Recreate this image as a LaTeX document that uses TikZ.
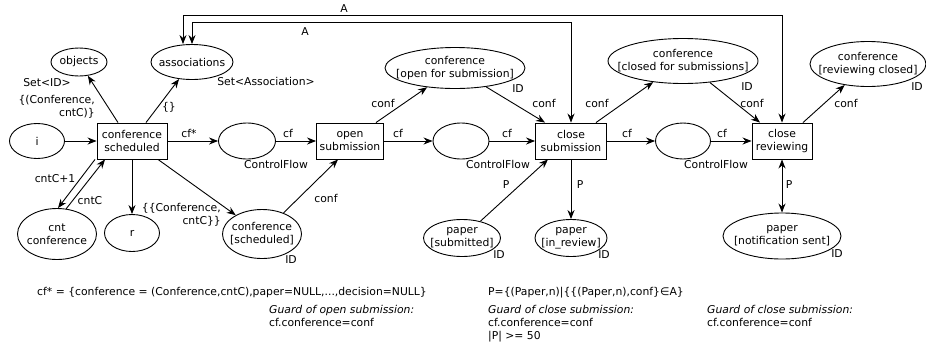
\documentclass[tikz,border=0pt]{standalone}
\usepackage{fontspec}
\setmainfont{DejaVu Sans}
\usetikzlibrary{shapes.geometric,arrows.meta}

\tikzset{
    place/.style={ellipse, draw, line width=0.9pt, inner sep=-60pt, align=center},
    trans/.style={rectangle, draw, line width=0.9pt, minimum height=36, inner sep=0pt, align=center},
    arc/.style={line width=0.9pt, -{Stealth[length=9pt,width=7pt]}},
    arcboth/.style={line width=0.9pt, {Stealth[length=9pt,width=7pt]}-{Stealth[length=9pt,width=7pt]}},
    lbl/.style={inner sep=0pt},
}

\begin{document}
\begin{tikzpicture}[x=1pt, y=-1pt, font=\fontsize{10.8}{13}\selectfont]
    \useasboundingbox (0,0) rectangle (926,346);

    % Transitions
    \node[trans, minimum width=70] (tsched) at (132,141) {conference\\scheduled};
    \node[trans, minimum width=67] (topen) at (350,141) {open\\submission};
    \node[trans, minimum width=71] (tclosesub) at (571,141) {close\\submission};
    \node[trans, minimum width=60] (tcloserev) at (782,141) {close\\reviewing};

    % Places
    \node[place, minimum width=55, minimum height=35] (i) at (37,141) {i};
    \node[place, minimum width=56, minimum height=28] (objects) at (79,62) {objects};
    \node[place, minimum width=82, minimum height=35] (assoc) at (192,62) {associations};
    \node[place, minimum width=79, minimum height=51] (cnt) at (57,234) {cnt\\conference};
    \node[place, minimum width=55, minimum height=37] (r) at (132,233) {r};
    \node[place, minimum width=79, minimum height=49] (confsched) at (262,234) {conference\\{[scheduled]}};
    \node[place, minimum width=57, minimum height=36] (cfa) at (247,141) {};
    \node[place, minimum width=56, minimum height=36] (cfb) at (461,141) {};
    \node[place, minimum width=55, minimum height=36] (cfc) at (683,141) {};
    \node[place, minimum width=140, minimum height=41] (confopen) at (455,68) {conference\\{[open for submission]}};
    \node[place, minimum width=150, minimum height=45] (confclosed) at (683,61) {conference\\{[closed for submissions]}};
    \node[place, minimum width=116, minimum height=45] (confrev) at (868,64) {conference\\{[reviewing closed]}};
    \node[place, minimum width=77, minimum height=37] (papsub) at (462,238) {paper\\{[submitted]}};
    \node[place, minimum width=72, minimum height=37] (paprev) at (571,238) {paper\\{[in\_review]}};
    \node[place, minimum width=118, minimum height=46] (papnotif) at (782,236) {paper\\{[notification sent]}};

    % Types des places
    \node[lbl] (tyobj) at (47,83) {Set<ID>};
    \node[lbl] (tyassoc) at (266,81) {Set<Association>};
    \node[lbl] (tycfa) at (276,164) {ControlFlow};
    \node[lbl] (tycfb) at (498,164) {ControlFlow};
    \node[lbl] (tycfc) at (716,164) {ControlFlow};
    \node[lbl] (idsched) at (291,260) {ID};
    \node[lbl] (idopen) at (518,89) {ID};
    \node[lbl] (idclosed) at (747,87) {ID};
    \node[lbl] (idrev) at (917,87) {ID};
    \node[lbl] (idsub) at (499,255) {ID};
    \node[lbl] (idinrev) at (604,255) {ID};
    \node[lbl] (idnotif) at (837,254) {ID};

    % Arcs du flot de controle
    \draw[arc] (i) -- (tsched);
    \draw[arc] (tsched) -- (cfa);
    \draw[arc] (cfa) -- (topen);
    \draw[arc] (topen) -- (cfb);
    \draw[arc] (cfb) -- (tclosesub);
    \draw[arc] (tclosesub) -- (cfc);
    \draw[arc] (cfc) -- (tcloserev);

    % Arcs de conference scheduled
    \draw[arc] ([xshift=-14]tsched.north) -- (objects);
    \draw[arc] ([xshift=14]tsched.north) -- (assoc);
    \draw[arc] (tsched.south) -- (r);
    \draw[arc] ([xshift=26]tsched.south) -- (confsched);
    \draw[arc] ([xshift=-37]tsched.south) -- ([xshift=1]cnt.north);
    \draw[arc] (cnt.70) -- ([xshift=-27]tsched.south);

    % Arcs des conferences
    \draw[arc] (confsched) -- ([xshift=-12]topen.south);
    \draw[arc] ([xshift=26]topen.north) -- (confopen);
    \draw[arc] (confopen) -- ([xshift=-26]tclosesub.north);
    \draw[arc] ([xshift=25]tclosesub.north) -- (confclosed);
    \draw[arc] (confclosed) -- ([xshift=-22]tcloserev.north);
    \draw[arc] ([xshift=21]tcloserev.north) -- (confrev);

    % Arcs des papiers
    \draw[arc] (papsub) -- ([xshift=-23]tclosesub.south);
    \draw[arc] (tclosesub.south) -- (paprev);
    \draw[arcboth] (tcloserev.south) -- (papnotif);

    % Arcs des associations
    \draw[arcboth] (tcloserev.north) -- ++(0,-107) -| ([xshift=-9]assoc.north);
    \draw[arcboth] (tclosesub.north) -- ++(0,-100) -| (assoc.north);

    % Inscriptions des arcs
    \node[lbl, anchor=east, align=right] (inobj) at (95,107) {\{(Conference,\\cntC)\}};
    \node[lbl] (inassoc) at (169,107) {\{\}};
    \node[lbl] (incfstar) at (189,133) {cf*};
    \node[lbl] (incfa) at (288,133) {cf};
    \node[lbl] (incfb) at (398,133) {cf};
    \node[lbl] (incfc) at (507,133) {cf};
    \node[lbl] (incfd) at (627,133) {cf};
    \node[lbl] (incfe) at (722,133) {cf};
    \node[lbl, anchor=east, align=right] (insched) at (221,215) {\{\{Conference,\\cntC\}\}};
    \node[lbl] (incntp) at (55,179) {cntC+1};
    \node[lbl] (incnt) at (90,201) {cntC};
    \node[lbl] (inconfa) at (326,198) {conf};
    \node[lbl] (inconfb) at (383,103) {conf};
    \node[lbl] (inconfc) at (544,103) {conf};
    \node[lbl] (inconfd) at (597,103) {conf};
    \node[lbl] (inconfe) at (752,103) {conf};
    \node[lbl] (inconff) at (846,103) {conf};
    \node[lbl] (inpa) at (506,185) {P};
    \node[lbl] (inpb) at (580,185) {P};
    \node[lbl] (inpc) at (789,185) {P};
    \node[lbl] (inaout) at (344,9) {A};
    \node[lbl] (inain) at (305,32) {A};

    % Definitions et gardes
    \node[lbl, anchor=west] (defcf) at (37,293) {cf* = \{conference = (Conference,cntC),paper=NULL,...,decision=NULL\}};
    \node[lbl, anchor=west] (defp) at (488,293) {P=\{(Paper,n)|\{\{(Paper,n),conf\}∈A\}};
    \node[lbl, anchor=north west, align=left] (guardopen) at (269,305) {\textit{Guard of open submission:}\\cf.conference=conf};
    \node[lbl, anchor=north west, align=left] (guardsub) at (488,305) {\textit{Guard of close submission:}\\cf.conference=conf\\|P| >= 50};
    \node[lbl, anchor=north west, align=left] (guardrev) at (707,305) {\textit{Guard of close submission:}\\cf.conference=conf};
\end{tikzpicture}
\end{document}
